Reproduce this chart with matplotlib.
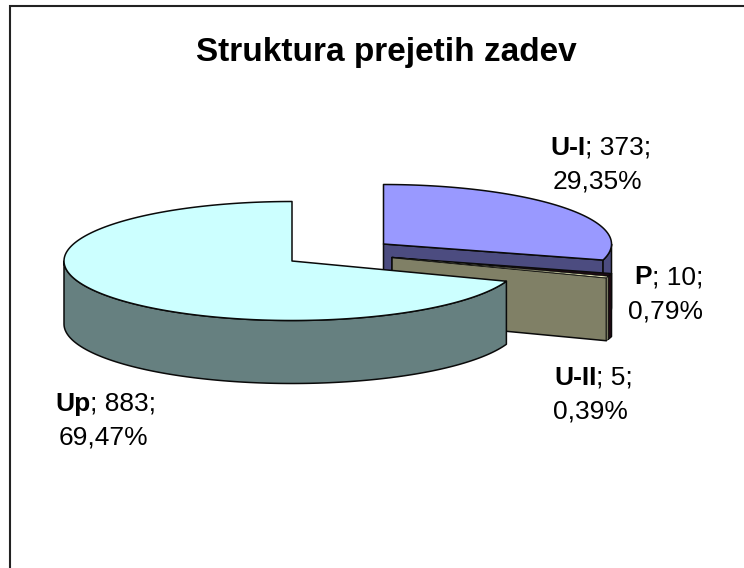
import numpy as np
import matplotlib
matplotlib.use('Agg')
import matplotlib.pyplot as plt

plt.rcParams['font.family'] = ['Liberation Sans', 'DejaVu Sans']

title = "Struktura prejetih zadev"
# clockwise from 12 o'clock
names = ['U-I', 'P', 'U-II', 'Up']
values = [373, 10, 5, 883]
top_colors = ['#9999FF', '#1E0A14', '#FFFFCC', '#CCFFFF']
side_colors = ['#4C4C80', '#1E0A14', '#808066', '#668080']
# slice centres in pixels, the small ones are pulled out together
centers = [(383.5, 244), (392, 257.5), (392, 257.5), (292, 261)]
label_pos = [(550, 155, 553, 188), (634, 284, 628, 318),
             (554, 385, 553, 418), (55, 411, 59, 445)]
edge_widths = [1.1, 1.0, 0.4, 1.1]

RX, RY, DEPTH = 228, 59.5, 63
EDGE = '#0A0A0A'

fig = plt.figure(figsize=(7.44, 5.68), dpi=100)
ax = fig.add_axes([0, 0, 1, 1])
ax.set_xlim(0, 744)
ax.set_ylim(568, 0)
ax.axis('off')

# chart border, only top and left are in the picture
ax.plot([9.5, 9.5, 744], [568, 5.5, 5.5], color='#222222', lw=1.5, solid_joinstyle='miter')


def arc(cx, cy, a1, a2, n=160):
    t = np.radians(np.linspace(a1, a2, n))
    return cx + RX * np.cos(t), cy - RY * np.sin(t)


def draw_slice(cx, cy, a1, a2, top, side, lw):
    # a1 > a2, going clockwise
    ex, ey = arc(cx, cy, a2, a2, 1)
    # cut face at the clockwise end
    if -90 < a2 < 90:
        ax.fill([cx, ex[0], ex[0], cx], [cy, ey[0], ey[0] + DEPTH, cy + DEPTH],
                facecolor=side, edgecolor=EDGE, lw=1.1, joinstyle='round')
    # outer rim, front half only
    lo, hi = max(a2, -180), min(a1, 0)
    if hi > lo:
        x, y = arc(cx, cy, hi, lo)
        ax.fill(np.r_[x, x[::-1]], np.r_[y, y[::-1] + DEPTH],
                facecolor=side, edgecolor=EDGE, lw=lw, joinstyle='round')
    # top face
    x, y = arc(cx, cy, a1, a2, 300)
    ax.fill(np.r_[cx, x], np.r_[cy, y], facecolor=top, edgecolor=EDGE, lw=lw, joinstyle='round')


total = sum(values)
start = 90.0
angles = []
for v in values:
    end = start - v / total * 360
    angles.append((start, end))
    start = end

# back to front: U-I, then P, U-II, then Up over them
for i in [0, 1, 2, 3]:
    draw_slice(centers[i][0], centers[i][1], angles[i][0], angles[i][1],
               top_colors[i], side_colors[i], edge_widths[i])

ax.text(386, 61, title, fontsize=24, fontweight='bold', ha='center', va='baseline', color='black')

renderer = fig.canvas.get_renderer()
for name, v, pos in zip(names, values, label_pos):
    pct = f"{v / total * 100:.2f}%".replace('.', ',')
    t = ax.text(pos[0], pos[1], name, fontsize=19, fontweight='bold', va='baseline', color='black')
    right = t.get_window_extent(renderer).x1
    ax.text(right, pos[1], f"; {v};", fontsize=19, va='baseline', color='black')
    ax.text(pos[2], pos[3], pct, fontsize=19, va='baseline', color='black')

plt.savefig('out.png', dpi=100)
plt.close()
